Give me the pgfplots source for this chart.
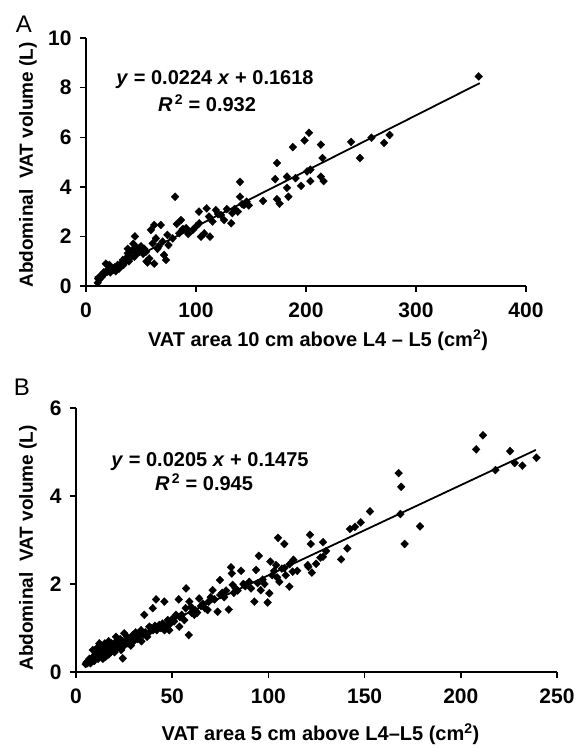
\documentclass[border=0pt]{standalone}
\usepackage{fontspec}
\setmainfont{Liberation Sans}
\usepackage{pgfplots}
\pgfplotsset{compat=1.18}

\pgfplotsset{
  vat/.style={
    scale only axis,
    axis x line=bottom, axis y line=left,
    axis line style={-, line width=1.6pt, black},
    tick align=outside, major tick length=6pt,
    tick style={line width=1.4pt, black},
    ticklabel style={font=\fontsize{21}{24}\selectfont\bfseries},
    xticklabel style={yshift=-7pt},
    yticklabel style={xshift=-5pt},
    /pgf/number format/assume math mode=true,
    label style={font=\fontsize{20}{23}\selectfont\bfseries},
    ylabel style={font=\fontsize{19}{22}\selectfont\bfseries},
  },
  pts/.style={only marks, mark=diamond*, mark size=4pt,
    mark options={xscale=1.3, fill=black, draw=black, line width=0.3pt}},
  fit/.style={black, line width=1.8pt, no marks},
}
\newcommand{\lbl}{\fontsize{20}{23}\selectfont\bfseries}

\begin{document}
\begin{tikzpicture}
\useasboundingbox (0pt,0pt) rectangle (578pt,-748pt);

% ---- panel A
\node[font=\fontsize{24}{27}\selectfont] at (24pt,-24pt) {A};
\begin{axis}[vat,
    at={(86pt,-286pt)}, anchor=south west,
    width=440pt, height=248pt,
    xmin=0, xmax=400, ymin=0, ymax=10,
    xtick={0,100,...,400}, ytick={0,2,...,10},
    xlabel={VAT area 10 cm above L4 -- L5 (cm\textsuperscript{2})},
    xlabel style={at={(axis description cs:0.5,0)}, anchor=center, yshift=-54pt, xshift=12pt},
    ylabel={Abdominal\ \ VAT volume (L)},
    % the label is turned by 90 degrees: yshift moves it left, xshift up
    ylabel style={at={(axis description cs:0,0.5)}, anchor=center, yshift=58pt, xshift=-3pt},
]
\addplot[pts] table {
x y
10.6 0.13
11 0.3
12.1 0.27
13 0.4
14 0.35
15.2 0.44
16 0.55
17 0.5
18 0.9
19 0.62
19.7 0.58
20.5 0.7
21.2 0.85
22 0.55
23 0.6
24.2 0.71
25 0.65
26 0.75
27 0.6
28.8 0.85
30 0.7
31 0.8
32 0.9
33.4 1.05
34 0.85
35 0.95
36 1.1
37.9 1.32
38 1.5
39 1.0
40 1.15
41 1.4
42.4 1.45
43 1.7
44 1.18
44.5 2.0
46 1.55
47 1.35
48.5 1.52
50 1.6
51 1.4
52 1.3
53 1.5
54.5 1.38
55 1.0
56 0.95
57.5 1.11
59 2.26
60.6 1.72
62 2.46
62 0.9
63.6 1.92
65 1.5
66 1.6
68 2.46
69.7 1.79
71 1.25
72.7 1.05
74 2.06
75 1.65
78.8 1.92
81 3.6
82.5 2.5
84.8 2.13
86.4 2.66
88 2.3
91 2.33
93 2.1
97 2.26
100 2.4
102.7 3.0
103 2.53
104.5 1.99
107.5 2.12
109.7 3.13
111.8 2.8
112.7 1.99
115 2.6
118 3.06
120 2.9
122.7 2.86
125.5 2.66
128 3.1
132 2.53
133 2.94
135 3.1
138 3.0
140 4.2
140 3.6
142 3.3
143.6 3.27
146 3.4
148 3.25
161 3.43
172 4.31
173.6 4.96
173.6 3.5
176 3.32
182.7 4.41
182.7 3.96
184 3.6
188 5.6
190.5 4.35
195.5 4.04
198.7 5.87
201 4.62
202.7 6.18
204 4.69
204 4.23
213.5 5.7
215 5.16
213.5 4.41
216 4.23
241 5.81
249 5.16
259.5 5.98
271 5.77
276 6.09
357 8.45
};
\addplot[fit] coordinates {(8,0.341) (358,8.181)};
\end{axis}
\node[font=\lbl] at (215pt,-80pt) {\textit{y} = 0.0224 \textit{x} + 0.1618};
\node[font=\lbl] at (207pt,-103pt) {\textit{R}\textsuperscript{\,2} = 0.932};

% ---- panel B
\node[font=\fontsize{24}{27}\selectfont] at (22pt,-387pt) {B};
\begin{axis}[vat,
    at={(76pt,-672pt)}, anchor=south west,
    width=481pt, height=264pt,
    xmin=0, xmax=250, ymin=0, ymax=6,
    xtick={0,50,...,250}, ytick={0,2,4,6},
    xlabel={VAT area 5 cm above L4--L5 (cm\textsuperscript{2})},
    xlabel style={at={(axis description cs:0.5,0)}, anchor=center, yshift=-62pt, xshift=4pt},
    ylabel={Abdominal\ \ VAT volume (L)},
    ylabel style={at={(axis description cs:0,0.5)}, anchor=center, yshift=48pt, xshift=-8pt},
]
\addplot[pts] table {
x y
5 0.18
5.5 0.22
6 0.2
6.5 0.25
7 0.3
7.5 0.2
8 0.28
8.7 0.5
9 0.35
9.5 0.25
10 0.4
10 0.3
10.5 0.45
11 0.35
11 0.55
11.5 0.3
12 0.4
12.1 0.65
12.5 0.5
13 0.35
13 0.6
13.5 0.45
14 0.3
14 0.55
14.5 0.4
15 0.5
15 0.65
15.5 0.35
16 0.45
16 0.6
16.5 0.55
17 0.4
17 0.7
17.5 0.5
18 0.45
18 0.6
18.5 0.65
19 0.5
19.5 0.55
20 0.6
20 0.45
20.8 0.8
21 0.7
21.5 0.55
22 0.65
22.5 0.6
23 0.75
23.5 0.5
24.3 0.31
24 0.7
25.1 0.88
25 0.6
26 0.7
26.5 0.8
27 0.65
28 0.75
28.5 0.6
29.5 0.84
30 0.7
30.5 0.8
31 0.9
32 0.75
33 0.85
33.8 0.95
34 0.7
35 0.85
35.5 1.3
36 0.9
37 0.8
38.1 1.03
38 0.9
39 1.0
39.9 1.45
40 0.95
41 1.05
41.6 1.65
42 0.95
43.3 1.07
44 1.0
45 1.1
45.9 1.6
46 0.95
47 1.05
47.7 1.18
48.5 0.95
49 1.1
50 1.2
51 1.15
52 1.3
53.4 1.65
53.7 1.03
54 1.25
55 1.3
56.3 1.18
57.2 1.9
57 1.45
58.6 0.84
58.9 1.6
59.8 1.48
60 1.35
61.5 1.3
62 1.4
63 1.35
64 1.67
65 1.5
66 1.55
67 1.45
68.4 1.41
69 1.6
70 1.7
71 1.86
72 1.65
73.6 1.37
74.8 2.09
75 1.75
76 1.8
77 1.7
78 1.85
79.4 1.42
80.6 2.38
81 2.24
81.4 1.98
82 1.8
83 1.9
84 1.85
85.8 2.3
87 2.0
88 1.95
90 2.05
91 1.9
92.7 1.6
93.6 2.32
94.4 2.02
95 2.64
96 1.86
97 2.1
98 2.0
99.6 1.58
100.5 1.79
101 2.51
102 2.2
103 2.3
104 2.43
104.5 2.15
105 3.05
105.7 2.05
107 2.35
108.3 2.91
108.3 2.36
109 2.2
110.9 1.94
111 2.45
112.6 2.28
113 2.55
115 2.3
120.4 2.43
120.8 2.39
121.6 3.12
122 2.91
122.6 2.26
124.8 2.46
127 2.6
128.4 2.95
128.4 2.62
130 2.75
137.8 2.56
141 2.81
142.4 3.25
145 3.3
148 3.4
152.8 3.65
167.7 4.52
169 4.21
168.6 3.59
170.8 2.91
178.8 3.31
208 5.06
211.5 5.38
218 4.59
225.6 5.02
228 4.75
232 4.69
239.3 4.87
};
\addplot[fit] coordinates {(4,0.2295) (239,5.047)};
\end{axis}
\node[font=\lbl] at (210pt,-462pt) {\textit{y} = 0.0205 \textit{x} + 0.1475};
\node[font=\lbl] at (204pt,-482pt) {\textit{R}\textsuperscript{\,2} = 0.945};
\end{tikzpicture}
\end{document}
